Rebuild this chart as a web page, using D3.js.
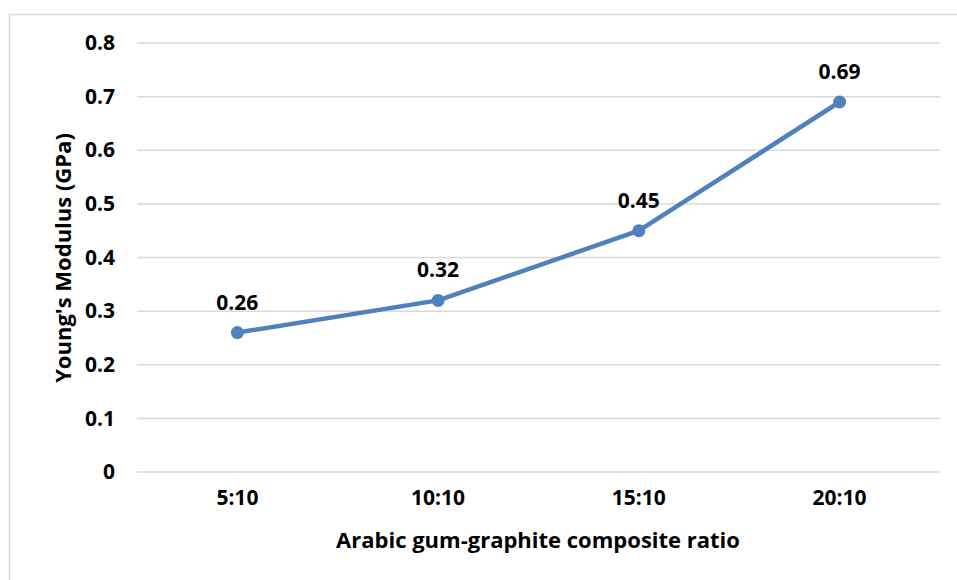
<!DOCTYPE html>
<html>
<head>
<meta charset="utf-8">
<script src="https://cdn.jsdelivr.net/npm/d3@7/dist/d3.min.js"></script>
<style>
  html, body { margin: 0; padding: 0; background: #fff; }
  svg { display: block; }
  text { font-family: "Open Sans", Lato, sans-serif; font-weight: bold; fill: #000; }
</style>
</head>
<body>
<svg id="chart" width="957" height="580"></svg>
<script>
// Young's modulus for each composite ratio
const ratios = ["5:10", "10:10", "15:10", "20:10"];
const modulus = [0.26, 0.32, 0.45, 0.69];
const yTicks = [0, 0.1, 0.2, 0.3, 0.4, 0.5, 0.6, 0.7, 0.8];

const svg = d3.select("#chart");
const plot = { left: 137, right: 940, top: 43, bottom: 472 };
const font = "'Open Sans', Lato, sans-serif";

// outer chart frame
svg.append("rect")
  .attr("x", 9.5).attr("y", 14.5)
  .attr("width", 1000).attr("height", 1000)
  .attr("fill", "none").attr("stroke", "#d9d9d9").attr("stroke-width", 1.5);

const x = d3.scaleBand().domain(ratios).range([plot.left, plot.right]);
const y = d3.scaleLinear().domain([0, 0.8]).range([plot.bottom, plot.top]);

// horizontal gridlines
svg.append("g").selectAll("line").data(yTicks).join("line")
  .attr("x1", plot.left).attr("x2", plot.right)
  .attr("y1", d => y(d)).attr("y2", d => y(d))
  .attr("stroke", "#d9d9d9").attr("stroke-width", 1.5);

// y axis labels
const yAxis = d3.axisLeft(y).tickValues(yTicks).tickSize(0).tickPadding(0)
  .tickFormat(d => d === 0 ? "0" : d3.format(".1f")(d));
svg.append("g").attr("transform", `translate(${plot.left - 22},0)`).call(yAxis)
  .call(g => g.select(".domain").remove())
  .call(g => g.selectAll("text").attr("font-size", 21).attr("fill", "#000")
    .attr("font-family", font).attr("font-weight", "bold"));

// x axis labels
const xAxis = d3.axisBottom(x).tickSize(0).tickPadding(0);
svg.append("g").attr("transform", `translate(0,${plot.bottom + 18})`).call(xAxis)
  .call(g => g.select(".domain").remove())
  .call(g => g.selectAll("text").attr("font-size", 21).attr("fill", "#000")
    .attr("font-family", font).attr("font-weight", "bold"));

const cx = d => x(d) + x.bandwidth() / 2;
const pts = ratios.map((r, i) => ({ r, v: modulus[i] }));

// series line
svg.append("path").datum(pts)
  .attr("fill", "none").attr("stroke", "#4f81bd").attr("stroke-width", 4.5)
  .attr("stroke-linejoin", "round")
  .attr("d", d3.line().x(d => cx(d.r)).y(d => y(d.v)));

// markers
svg.append("g").selectAll("circle").data(pts).join("circle")
  .attr("cx", d => cx(d.r)).attr("cy", d => y(d.v)).attr("r", 6.5)
  .attr("fill", "#4f81bd");

// value labels
svg.append("g").selectAll("text").data(pts).join("text")
  .attr("x", d => cx(d.r)).attr("y", d => y(d.v) - 23)
  .attr("text-anchor", "middle").attr("font-size", 21)
  .text(d => d.v.toFixed(2));

// axis titles
svg.append("text")
  .attr("x", 538).attr("y", 548).attr("text-anchor", "middle").attr("font-size", 22)
  .text("Arabic gum-graphite composite ratio");
svg.append("text")
  .attr("transform", "translate(71,258) rotate(-90)")
  .attr("text-anchor", "middle").attr("font-size", 22)
  .text("Young's Modulus (GPa)");
</script>
</body>
</html>
